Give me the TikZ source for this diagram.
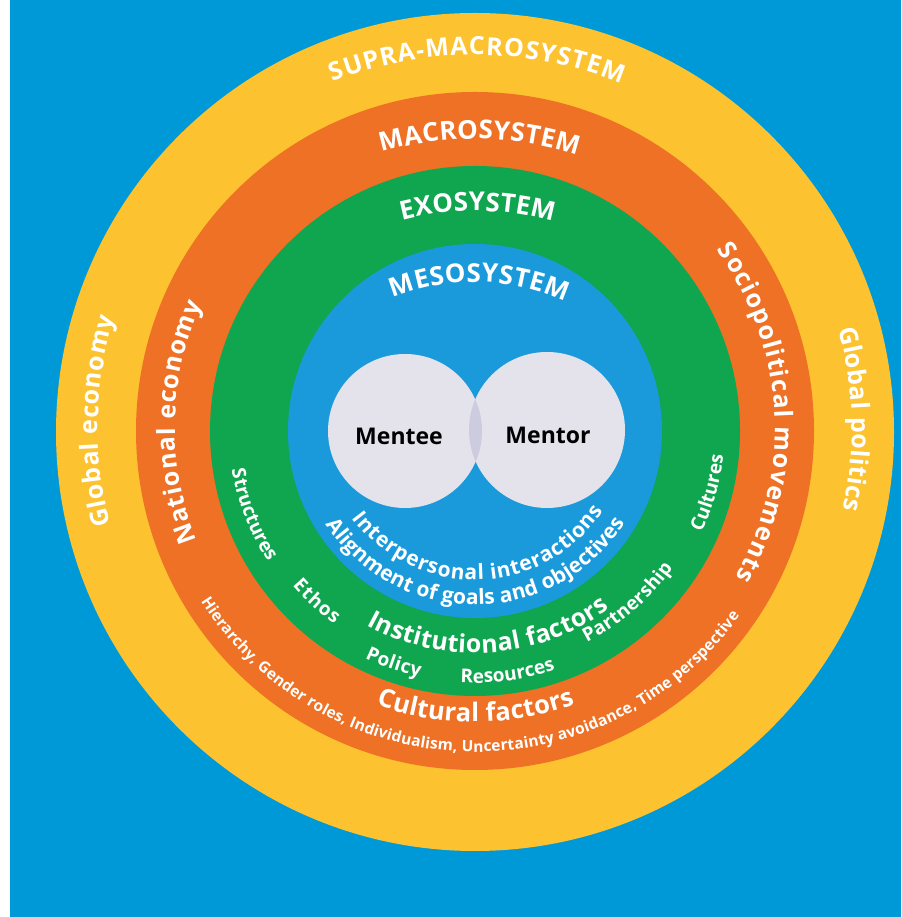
\documentclass[tikz,border=0pt]{standalone}
\usepackage{fontspec}
\setmainfont{Open Sans}
\usetikzlibrary{decorations.text}
\definecolor{bgblue}{HTML}{0099D7}
\definecolor{ringyellow}{HTML}{FCC22F}
\definecolor{ringorange}{HTML}{EE7125}
\definecolor{ringgreen}{HTML}{10A54F}
\definecolor{ringblue}{HTML}{1A9ADA}
\definecolor{pale}{HTML}{E4E3EC}
\definecolor{lens}{HTML}{CDCBDF}
\newcommand{\arctxt}[7]{\path[decorate,decoration={text along path,text align={fit to path},text={|\color{white}\fontsize{#6}{#6}\selectfont\bfseries|#7}}] (#1pt,#2pt) ++(#4:#3pt) arc[start angle=#4,end angle=#5,radius=#3pt];}
\tikzset{person/.style={font=\bfseries\fontsize{23}{23}\selectfont, text=black, inner sep=0pt},
  bubble/.style={circle, fill=pale, inner sep=0pt}}
\begin{document}
\begin{tikzpicture}
\useasboundingbox (0,0) rectangle (901pt,917pt);
\fill[white] (0,0) rectangle (901pt,917pt);
\fill[bgblue] (10pt,0) rectangle (901pt,917pt);
% rings
\fill[ringyellow] (475pt,485pt) circle (419pt);
\fill[ringorange] (475pt,486pt) circle (339pt);
\fill[ringgreen] (475pt,486pt) circle (265pt);
\fill[ringblue] (475pt,486pt) circle (187pt);
% mentee / mentor
\node[bubble, minimum size=154pt] (menteec) at (405pt,486pt) {};
\node[bubble, minimum size=156pt] (mentorc) at (547pt,487pt) {};
\begin{scope}
\clip (405pt,486pt) circle (77pt);
\fill[lens] (547pt,487pt) circle (78pt);
\end{scope}
\node[person] (mentee) at (399pt,481pt) {Mentee};
\node[person] (mentor) at (548pt,482pt) {Mentor};
% top titles
\arctxt{475}{472}{390}{111.4}{68.0}{25}{SUPRA-MACROSYSTEM}
\arctxt{475}{438}{340}{106.0}{72.5}{26}{MACROSYSTEM}
\arctxt{475}{416}{290}{104.6}{74.4}{26}{EXOSYSTEM}
\arctxt{475}{415}{220}{111.9}{65.9}{26}{MESOSYSTEM}
% side labels
\arctxt{475}{489}{377}{194.9}{163}{25}{Global economy}
\arctxt{475}{489}{300}{202}{155.6}{25}{National economy}
\arctxt{475}{489}{300}{36.4}{-29.8}{25}{Sociopolitical movements}
\arctxt{475}{489}{377}{15.2}{-12.5}{25}{Global politics}
% bottom labels
\arctxt{475}{490}{153}{216.5}{326.8}{21}{Interpersonal interactions}
\arctxt{475}{490}{178}{213.2}{327.5}{21}{Alignment of goals and objectives}
\arctxt{475}{490}{226}{241.2}{306.4}{25}{Institutional factors}
\arctxt{475}{490}{256}{244.5}{257.5}{19}{Policy}
\arctxt{475}{490}{256}{266.7}{287.3}{19}{Resources}
\arctxt{475}{490}{242}{221}{234.5}{19}{Ethos}
\arctxt{475}{490}{243}{297.4}{324.6}{19}{Partnership}
\arctxt{475}{490}{247}{190}{213}{19}{Structures}
\arctxt{475}{490}{250}{335}{353.5}{19}{Cultures}
\arctxt{475}{490}{295}{250.4}{289.8}{25.5}{Cultural factors}
\arctxt{475}{490}{325}{212.5}{324.5}{15.5}{Hierarchy, Gender roles, Individualism, Uncertainty avoidance, Time perspective}
\end{tikzpicture}
\end{document}
